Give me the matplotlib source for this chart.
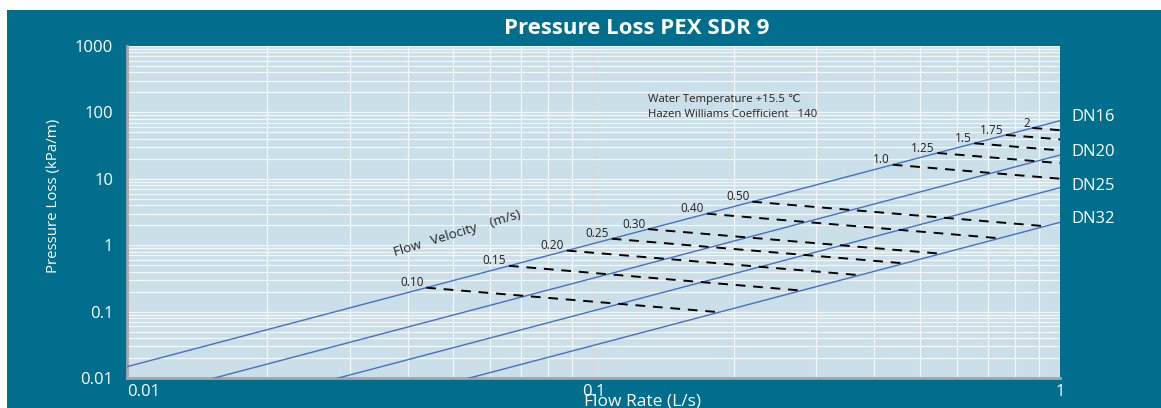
import numpy as np
import matplotlib
matplotlib.use('Agg')
import matplotlib.pyplot as plt
from matplotlib.patches import Rectangle

plt.rcParams['font.family'] = ['Open Sans', 'DejaVu Sans']

# pipe curves: pressure loss (kPa/m) read at these flow rates (L/s)
flow_pts = [0.01, 0.1, 1, 2]
pipe_names = ['DN16', 'DN20', 'DN25', 'DN32']
pipe_loss = {
    'DN16': [0.0148, 1.06, 75, 270],
    'DN20': [0.0045, 0.32, 22.8, 82],
    'DN25': [0.00145, 0.103, 7.35, 26.5],
    'DN32': [0.00044, 0.031, 2.21, 8.0],
}

# velocity lines: flow where each velocity meets DN16 and DN32
vel_labels = ['0.10', '0.15', '0.20', '0.25', '0.30', '0.40', '0.50',
              '1.0', '1.25', '1.5', '1.75', '2']
vel_q16 = [0.0438, 0.0659, 0.0877, 0.1094, 0.131, 0.175, 0.219,
           0.438, 0.546, 0.655, 0.766, 0.873]
vel_q32 = [0.186, 0.279, 0.372, 0.464, 0.556, 0.742, 0.93,
           1.857, 2.32, 2.78, 3.25, 3.70]

teal = '#006e8c'
blue = '#4472c4'


def loss_at(name, q):
    # log-log interpolation along a pipe curve
    lx = np.log10(flow_pts)
    ly = np.log10(pipe_loss[name])
    slope = (ly[-1] - ly[-2]) / (lx[-1] - lx[-2])
    lq = np.log10(q)
    if lq > lx[-1]:
        return 10 ** (ly[-1] + slope * (lq - lx[-1]))
    return 10 ** np.interp(lq, lx, ly)


fig = plt.figure(figsize=(11.61, 4.08), dpi=100, facecolor='white')
fig.add_artist(Rectangle((7 / 1161, 0), 1, 398 / 408, transform=fig.transFigure,
                         facecolor=teal, edgecolor='none', zorder=-5))

ax = fig.add_axes([127 / 1161, 30 / 408, 933 / 1161, 332 / 408])
ax.set_facecolor('#cbdfe9')
ax.set_xscale('log')
ax.set_yscale('log')
ax.set_xlim(0.01, 1)
ax.set_ylim(0.01, 1000)

ax.grid(True, which='minor', color='#f2f7fa', lw=0.9)
ax.grid(True, which='major', axis='y', color='#f2f7fa', lw=0.9)
ax.grid(True, which='major', axis='x', color='#d6d6d6', lw=1.0)
ax.set_axisbelow(True)

for name in pipe_names:
    ax.plot(flow_pts, pipe_loss[name], color=blue, lw=1.0, zorder=3)

for lab, q16, q32 in zip(vel_labels, vel_q16, vel_q32):
    h16 = loss_at('DN16', q16)
    h32 = loss_at('DN32', q32)
    ax.plot([q16, q32], [h16, h32], color='black', lw=1.4,
            dashes=(5, 4), zorder=4)
    ax.annotate(lab, (q16, h16), xytext=(-2, 3.5), textcoords='offset points',
                ha='right', va='center', fontsize=8.5, color='#222222')

ax.text(0.051, 1.5, 'Flow   Velocity    (m/s)', rotation=17, fontsize=9.5,
        color='#222222', ha='center', va='center')
ax.text(0.131, 154, 'Water Temperature +15.5 \u2103', fontsize=8.2, color='#222222',
        ha='left', va='center')
ax.text(0.131, 94, 'Hazen Williams Coefficient   140', fontsize=8.2, color='#222222',
        ha='left', va='center')

for sp in ['top', 'right']:
    ax.spines[sp].set_visible(False)
for sp in ['left', 'bottom']:
    ax.spines[sp].set_color('#a6a6a6')
    ax.spines[sp].set_linewidth(2)

ax.set_xticks([0.01, 0.1, 1])
ax.set_xticklabels(['0.01', '0.1', '1'])
ax.set_yticks([0.01, 0.1, 1, 10, 100, 1000])
ax.set_yticklabels(['0.01', '0.1', '1', '10', '100', '1000'])
ax.tick_params(which='both', length=0, colors='white', labelsize=12)
ax.tick_params(axis='y', pad=10)
ax.tick_params(axis='x', pad=4)
ax.get_xticklabels()[0].set_ha('left')

ax.set_ylabel('Pressure Loss (kPa/m)', color='white', fontsize=10.8)
ax.yaxis.set_label_coords(-66 / 933, 0.548)
ax.set_xlabel('Flow Rate (L/s)', color='white', fontsize=12.5)
ax.xaxis.set_label_coords(0.553, -16 / 332)
ax.xaxis.label.set_va('top')

fig.text(637 / 1161, 1 - 29 / 408, 'Pressure Loss PEX SDR 9', color='white',
         fontsize=16, fontweight='bold', ha='center', va='center')

for name, y in zip(pipe_names, [117, 152, 186, 219]):
    fig.text(1071 / 1161, 1 - y / 408, name, color='white', fontsize=12,
             ha='left', va='center')

fig.savefig('out.png', dpi=100)
